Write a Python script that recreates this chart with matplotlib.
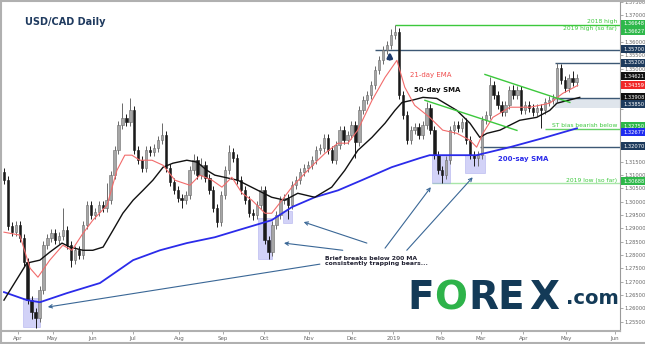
import matplotlib
matplotlib.use('Agg')
import matplotlib.pyplot as plt
import matplotlib.transforms as mtransforms
from matplotlib.patches import Rectangle
import numpy as np

# ---------------- data (bar index = ~2 trading days) ----------------
first_open = 1.3110
closes = [1.3081, 1.2908, 1.2886, 1.2912, 1.2863, 1.2773, 1.2631, 1.2586, 1.2563, 1.2668,
          1.2837, 1.2863, 1.2882, 1.2856, 1.2871, 1.2893, 1.2837, 1.2781, 1.2818, 1.2800,
          1.2912, 1.2987, 1.2950, 1.2961, 1.2987, 1.2976, 1.3006, 1.3100, 1.3193, 1.3287,
          1.3314, 1.3299, 1.3343, 1.3193, 1.3156, 1.3126, 1.3193, 1.3186, 1.3201, 1.3231,
          1.3250, 1.3126, 1.3074, 1.3043, 1.3014, 1.3006, 1.3025, 1.3118, 1.3156, 1.3100,
          1.3137, 1.3089, 1.3043, 1.2976, 1.2923, 1.3025, 1.3118, 1.3186, 1.3164, 1.3081,
          1.3043, 1.3006, 1.2957, 1.2950, 1.2987, 1.3043, 1.2856, 1.2811, 1.2912, 1.2950,
          1.3006, 1.3014, 1.2987, 1.3062, 1.3081, 1.3111, 1.3126, 1.3137, 1.3156, 1.3193,
          1.3201, 1.3238, 1.3193, 1.3156, 1.3212, 1.3268, 1.3231, 1.3250, 1.3287, 1.3224,
          1.3343, 1.3381, 1.3400, 1.3437, 1.3493, 1.3531, 1.3568, 1.3587, 1.3625, 1.3636,
          1.3400, 1.3325, 1.3231, 1.3268, 1.3280, 1.3250, 1.3287, 1.3351, 1.3268, 1.3175,
          1.3118, 1.3100, 1.3156, 1.3268, 1.3287, 1.3276, 1.3299, 1.3231, 1.3175, 1.3164,
          1.3175, 1.3306, 1.3325, 1.3437, 1.3400, 1.3362, 1.3336, 1.3362, 1.3418, 1.3400,
          1.3418, 1.3343, 1.3362, 1.3351, 1.3336, 1.3351, 1.3343, 1.3373, 1.3381, 1.3388,
          1.3501, 1.3456, 1.3426, 1.3464, 1.3449, 1.3464]
highs = [1.3125, 1.3096, 1.2923, 1.2927, 1.2927, 1.2878, 1.2788, 1.2646, 1.2601, 1.2683,
         1.2852, 1.2878, 1.2897, 1.2897, 1.2886, 1.2975, 1.2908, 1.2852, 1.2833, 1.2833,
         1.2927, 1.3002, 1.3002, 1.2976, 1.3002, 1.3002, 1.3070, 1.3115, 1.3208, 1.3302,
         1.3370, 1.3329, 1.3388, 1.3358, 1.3208, 1.3171, 1.3208, 1.3208, 1.3216, 1.3246,
         1.3295, 1.3265, 1.3141, 1.3089, 1.3058, 1.3029, 1.3040, 1.3133, 1.3180, 1.3171,
         1.3165, 1.3152, 1.3104, 1.3058, 1.2991, 1.3040, 1.3133, 1.3215, 1.3201, 1.3179,
         1.3096, 1.3058, 1.3021, 1.2972, 1.3002, 1.3058, 1.3058, 1.2871, 1.2927, 1.2965,
         1.3021, 1.3029, 1.3029, 1.3077, 1.3096, 1.3126, 1.3141, 1.3152, 1.3171, 1.3208,
         1.3216, 1.3253, 1.3253, 1.3208, 1.3227, 1.3283, 1.3283, 1.3265, 1.3302, 1.3302,
         1.3358, 1.3396, 1.3415, 1.3452, 1.3508, 1.3546, 1.3583, 1.3602, 1.3650, 1.3665,
         1.3651, 1.3415, 1.3340, 1.3283, 1.3295, 1.3295, 1.3302, 1.3375, 1.3366, 1.3283,
         1.3190, 1.3133, 1.3171, 1.3283, 1.3302, 1.3302, 1.3314, 1.3314, 1.3246, 1.3190,
         1.3190, 1.3321, 1.3340, 1.3470, 1.3452, 1.3415, 1.3377, 1.3377, 1.3433, 1.3440,
         1.3433, 1.3433, 1.3377, 1.3377, 1.3366, 1.3366, 1.3366, 1.3388, 1.3396, 1.3403,
         1.3520, 1.3516, 1.3471, 1.3479, 1.3490, 1.3480]
lows = [1.3066, 1.2893, 1.2871, 1.2871, 1.2848, 1.2758, 1.2616, 1.2560, 1.2528, 1.2548,
        1.2653, 1.2822, 1.2848, 1.2841, 1.2841, 1.2856, 1.2822, 1.2755, 1.2766, 1.2785,
        1.2785, 1.2897, 1.2935, 1.2935, 1.2946, 1.2961, 1.2961, 1.2991, 1.3085, 1.3178,
        1.3272, 1.3284, 1.3284, 1.3178, 1.3141, 1.3111, 1.3111, 1.3171, 1.3171, 1.3186,
        1.3216, 1.3111, 1.3059, 1.3028, 1.2999, 1.2975, 1.2991, 1.3010, 1.3103, 1.3085,
        1.3085, 1.3074, 1.3028, 1.2961, 1.2905, 1.2908, 1.3010, 1.3103, 1.3149, 1.3066,
        1.3028, 1.2991, 1.2942, 1.2930, 1.2935, 1.2972, 1.2841, 1.2785, 1.2796, 1.2897,
        1.2935, 1.2991, 1.2935, 1.2972, 1.3047, 1.3066, 1.3096, 1.3111, 1.3122, 1.3141,
        1.3178, 1.3186, 1.3178, 1.3145, 1.3141, 1.3197, 1.3216, 1.3216, 1.3235, 1.3164,
        1.3209, 1.3328, 1.3366, 1.3385, 1.3422, 1.3478, 1.3516, 1.3553, 1.3572, 1.3610,
        1.3385, 1.3310, 1.3216, 1.3216, 1.3253, 1.3235, 1.3235, 1.3272, 1.3253, 1.3160,
        1.3103, 1.3069, 1.3085, 1.3141, 1.3253, 1.3261, 1.3261, 1.3216, 1.3160, 1.3135,
        1.3135, 1.3160, 1.3291, 1.3310, 1.3385, 1.3347, 1.3321, 1.3321, 1.3347, 1.3385,
        1.3385, 1.3328, 1.3328, 1.3336, 1.3321, 1.3321, 1.3276, 1.3328, 1.3358, 1.3366,
        1.3373, 1.3441, 1.3411, 1.3411, 1.3434, 1.3434]

ema_x = [0, 4, 6.6, 8.6, 11.6, 14.9, 17.2, 19.7, 22.5, 26.1, 28.6, 30.6, 32.4, 34.4, 37.5,
         40.3, 43.3, 47.1, 49.6, 52.7, 55.2, 57.7, 60.3, 62.8, 66.1, 67.8, 70.4, 72.9, 76.2,
         78.7, 81.3, 84.6, 87.1, 89.6, 93.2, 96.5, 99.5, 101.5, 104, 107.8, 111.1, 114.7,
         118, 119.7, 121.3, 123.8, 128.1, 133.2, 138.2, 141.5, 145.3]
ema_y = [1.2886, 1.2875, 1.2751, 1.2717, 1.2781, 1.2837, 1.2818, 1.2875, 1.2931, 1.2987,
         1.3118, 1.3175, 1.3175, 1.3156, 1.3156, 1.3137, 1.3081, 1.3062, 1.3100, 1.3081,
         1.3055, 1.3092, 1.3032, 1.3006, 1.2957, 1.2957, 1.3006, 1.3055, 1.3107, 1.3145,
         1.3182, 1.3220, 1.3220, 1.3269, 1.3381, 1.3467, 1.3531, 1.3430, 1.3362, 1.3317,
         1.3269, 1.3257, 1.3231, 1.3205, 1.3257, 1.3317, 1.3355, 1.3355, 1.3370, 1.3407,
         1.3437]

sma50_x = [0, 5.8, 9.1, 11.6, 14.7, 16.7, 20, 22.5, 25.1, 27.6, 30.1, 32.7, 35.2, 37.7,
           40.3, 42.8, 46.3, 48.9, 51.4, 53.4, 59.2, 64.3, 67.8, 71.1, 74.4, 78.7, 83,
           86.3, 89.6, 93.2, 96.5, 99, 100.8, 103.3, 106.1, 109.6, 114.7, 118, 120.5,
           122.3, 125.6, 130.6, 134.9, 138.2, 140, 145.8]
sma50_y = [1.2631, 1.2770, 1.2781, 1.2811, 1.2845, 1.2830, 1.2818, 1.2818, 1.2830, 1.2893,
           1.2957, 1.3006, 1.3043, 1.3081, 1.3130, 1.3145, 1.3156, 1.3149, 1.3118, 1.3100,
           1.3081, 1.3043, 1.3017, 1.3006, 1.3032, 1.3017, 1.3055, 1.3118, 1.3193, 1.3242,
           1.3295, 1.3343, 1.3373, 1.3381, 1.3392, 1.3388, 1.3343, 1.3295, 1.3242, 1.3257,
           1.3269, 1.3306, 1.3317, 1.3343, 1.3370, 1.3392]

sma200_x = [0, 5.8, 9.1, 15.9, 24.3, 32.7, 39.5, 46.3, 53.4, 59.2, 67.8, 72.9, 78.7, 84.6,
            90.6, 98.2, 105.3, 107.8, 119.7, 128.1, 136.5, 145.1]
sma200_y = [1.2661, 1.2631, 1.2623, 1.2657, 1.2695, 1.2781, 1.2818, 1.2845, 1.2867, 1.2893,
            1.2931, 1.2980, 1.3017, 1.3043, 1.3081, 1.3130, 1.3164, 1.3175, 1.3175, 1.3205,
            1.3239, 1.3276]

month_labels = ['Apr', 'May', 'Jun', 'Jul', 'Aug', 'Sep', 'Oct', 'Nov', 'Dec', '2019',
                'Feb', 'Mar', 'Apr', 'May', 'Jun']
month_pos = [3.6, 12.3, 22.4, 32.7, 44.3, 55.4, 65.9, 77.2, 88.2, 98.6, 110.6, 120.7,
             131.5, 142.3, 154.7]

# price tags on the right axis: value text, drawn position, colour
tag_values = ['1.36648', '1.36627', '1.35700', '1.35200', '1.34621', '1.34359',
              '1.33908', '1.33850', '1.32750', '1.32677', '1.32070', '1.30688']
tag_pos = [1.3669, 1.3641, 1.3572, 1.3522, 1.3471, 1.3437, 1.3393, 1.3366, 1.3283,
           1.3262, 1.3208, 1.3077]
tag_colors = ['#2eb84a', '#2eb84a', '#1d3a5c', '#1d3a5c', '#111111', '#f02828',
              '#111111', '#1d3a5c', '#2eb84a', '#1f2cf0', '#1d3a5c', '#2eb84a']

# ---------------- figure ----------------
W, H = 645, 344
fig = plt.figure(figsize=(W / 100, H / 100), dpi=100)
fig.patch.set_facecolor('white')
ax = fig.add_axes([2 / W, 13 / H, 618 / W, 329 / H])
XMAX = 156
ax.set_xlim(-0.5, XMAX)
ax.set_ylim(1.2515, 1.3749)

n = len(closes)
idx = np.arange(n)
c = np.array(closes)
o = np.array([first_open] + closes[:-1])
up = c >= o
body_col = np.where(up, '#a6a6a6', '#1a1a1a')
edge_col = np.where(up, '#6a6a6a', '#1a1a1a')
ax.vlines(idx, lows, highs, colors=edge_col, lw=0.7, zorder=3)
ax.bar(idx, np.maximum(np.abs(c - o), 0.0003), bottom=np.minimum(o, c), width=0.6,
       color=body_col, edgecolor=edge_col, lw=0.4, zorder=4)

ax.plot(sma200_x, sma200_y, color='#2b2bea', lw=1.3, zorder=5)
ax.plot(sma50_x, sma50_y, color='#111111', lw=1.0, zorder=5)
ax.plot(ema_x, ema_y, color='#f26b6b', lw=0.8, zorder=5)

# horizontal levels
navy = '#3d5875'
green = '#3cc83c'
ax.hlines(1.36648, 99, XMAX, color=green, lw=1.0, zorder=2)
ax.hlines(1.35700, 93.9, XMAX, color=navy, lw=1.0, zorder=2)
ax.hlines(1.35200, 139.5, XMAX, color=navy, lw=1.0, zorder=2)
ax.add_patch(Rectangle((139.5, 1.3352), XMAX - 139.5, 0.0039, fc='#dfe5ec', ec='none', zorder=1))
ax.hlines(1.33908, 139.5, XMAX, color=navy, lw=1.0, zorder=2)
ax.hlines(1.32750, 137, XMAX, color='#66d066', lw=1.0, zorder=2)
ax.hlines(1.32070, 120.5, XMAX, color=navy, lw=1.0, zorder=2)
ax.hlines(1.30688, 108.4, XMAX, color='#a8e6a8', lw=1.0, zorder=2)

# trend lines
ax.plot([106.6, 129.9], [1.3381, 1.3268], color=green, lw=1.0, zorder=6)
ax.plot([121.8, 143.3], [1.3478, 1.3373], color=green, lw=1.0, zorder=6)

# lavender highlight boxes
boxes = [(4.8, 9.1, 1.2530, 1.2639), (64.3, 67.8, 1.2785, 1.2939), (70.6, 72.9, 1.2920, 1.2965),
         (108.4, 112.9, 1.3070, 1.3175), (116.7, 121.8, 1.3107, 1.3175)]
for x0, x1, y0, y1 in boxes:
    ax.add_patch(Rectangle((x0, y0), x1 - x0, y1 - y0, fc='#b4b4f2', ec='#a0a0ea',
                           alpha=0.6, lw=0.5, zorder=2))

# arrows
arrows = [((80, 1.2766), (11.1, 1.2605)), ((85.8, 1.2818), (70.9, 1.2845)),
          ((91.9, 1.2845), (75.9, 1.2924)), ((96.5, 1.2826), (108.1, 1.3055)),
          ((102, 1.2818), (118.7, 1.3092))]
for start, end in arrows:
    ax.annotate('', xy=end, xytext=start,
                arrowprops=dict(arrowstyle='->', color='#3a6796', lw=0.8,
                                mutation_scale=6, shrinkA=0, shrinkB=0), zorder=7)

# up arrow
ax.annotate('', xy=(97.7, 1.3563), xytext=(97.7, 1.3535),
            arrowprops=dict(arrowstyle='-|>', color='#1d3a6c', lw=2.0, mutation_scale=7,
                            shrinkA=0, shrinkB=0), zorder=8)

# texts
ax.text(102.8, 1.3475, '21-day EMA', color='#f05050', fontsize=5, va='center', zorder=8)
ax.text(103.8, 1.3419, '50-day SMA', color='#111111', fontsize=5, weight='bold',
        va='center', zorder=8)
ax.text(125, 1.3160, '200-say SMA', color='#2b2bea', fontsize=5, weight='bold',
        va='center', zorder=8)
ax.text(81.3, 1.2795, 'Brief breaks below 200 MA\nconsistently trapping bears...',
        color='#222233', fontsize=4.4, weight='bold', va='top', linespacing=0.95, zorder=8)

ax.text(155.3, 1.36648 + 0.0003, '2018 high', color=green, fontsize=4.3, ha='right',
        va='bottom', zorder=8)
ax.text(155.3, 1.36648 - 0.0006, '2019 high (so far)', color=green, fontsize=4.3,
        ha='right', va='top', zorder=8)
ax.text(155.3, 1.32750 + 0.0003, 'ST bias bearish below', color='#3cc83c', fontsize=4.3,
        ha='right', va='bottom', zorder=8)
ax.text(155.3, 1.30688 + 0.0003, '2019 low (so far)', color='#3cc83c', fontsize=4.3,
        ha='right', va='bottom', zorder=8)

# axes styling
for s in ['top', 'left']:
    ax.spines[s].set_visible(False)
ax.spines['right'].set_color('#9a9a9a')
ax.spines['bottom'].set_color('#b0b0b0')
ax.spines['bottom'].set_linewidth(1.5)
ax.yaxis.tick_right()
yt = np.arange(1.255, 1.3751, 0.005)
ax.set_yticks(yt)
ylabels = []
for v in yt:
    hidden = any(abs(v - p) < 0.0019 for p in tag_pos)
    ylabels.append('' if hidden else '%.5f' % v)
ax.set_yticklabels(ylabels)
ax.tick_params(axis='y', labelsize=3.7, labelcolor='#666666', length=2, width=0.5,
               color='#888888', pad=1.5)
ax.set_xticks(month_pos)
ax.set_xticklabels(month_labels)
ax.tick_params(axis='x', labelsize=4.0, labelcolor='#666666', length=2, width=0.5,
               color='#888888', pad=1.5)

trans = mtransforms.blended_transform_factory(ax.transAxes, ax.transData)
for v, p, col in zip(tag_values, tag_pos, tag_colors):
    ax.text(1.0 + 3 / 618, p, v, transform=trans, fontsize=3.7, color='white',
            va='center', ha='left', zorder=20,
            bbox=dict(boxstyle='square,pad=0.3', fc=col, ec='none'))

# title
fig.text(25 / W, 1 - 22 / H, 'USD/CAD Daily', fontsize=7, weight='bold', color='#1f3a5f',
         va='center', ha='left')

# logo
logo_navy = '#133a57'
logo_green = '#2eb34a'
ly = 1 - 298 / H
for ch, cx, col in [('F', 421, logo_navy), ('O', 451, logo_green), ('R', 483, logo_navy),
                    ('E', 511, logo_navy), ('X', 544, logo_navy)]:
    fig.text(cx / W, ly, ch, fontsize=28, weight='heavy', color=col, ha='center',
             va='center')
fig.text(566 / W, 1 - 298 / H, '.com', fontsize=14, weight='bold', color=logo_navy,
         ha='left', va='center')

# frame lines
fig.add_artist(plt.Line2D([0, 1], [1 - 1 / H, 1 - 1 / H], color='#b0b0b0', lw=1.5))
fig.add_artist(plt.Line2D([1 / W, 1 / W], [0, 1], color='#b0b0b0', lw=1.5))
fig.add_artist(plt.Line2D([0, 1], [1 / H, 1 / H], color='#b0b0b0', lw=1.5))

fig.savefig('out.png', dpi=100, facecolor='white')
